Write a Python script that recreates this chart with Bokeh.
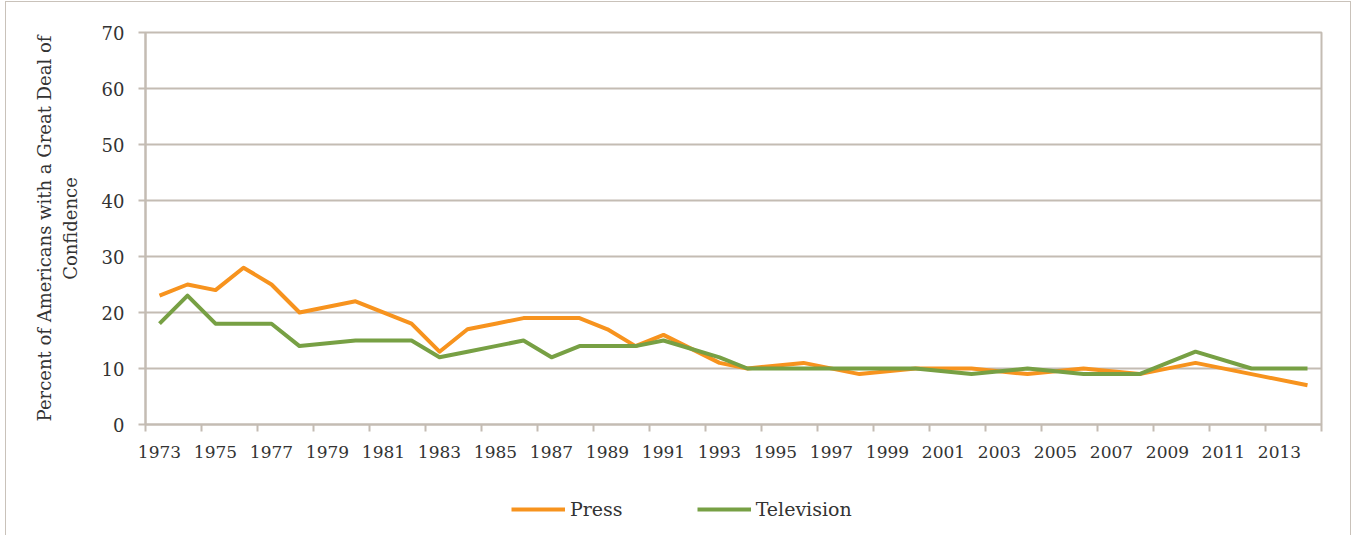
from bokeh.plotting import figure
from bokeh.models import Range1d, FixedTicker, Legend, LegendItem
from bokeh.layouts import column
from bokeh.embed import file_html
from bokeh.resources import INLINE

years = [1973, 1974, 1975, 1976, 1977, 1978, 1980, 1982, 1983, 1984, 1985, 1986,
         1987, 1988, 1989, 1990, 1991, 1993, 1994, 1996, 1998, 2000, 2002, 2004,
         2006, 2008, 2010, 2012, 2014]
press = [23, 25, 24, 28, 25, 20, 22, 18, 13, 17, 18, 19,
         19, 19, 17, 14, 16, 11, 10, 11, 9, 10, 10, 9,
         10, 9, 11, 9, 7]
television = [18, 23, 18, 18, 18, 14, 15, 15, 12, 13, 14, 15,
              12, 14, 14, 14, 15, 12, 10, 10, 10, 10, 9, 10,
              9, 9, 13, 10, 10]
tick_labels = [str(y) for y in range(1973, 2014, 2)]
y_ticks = [0, 10, 20, 30, 40, 50, 60, 70]

GRID = "#C4BCB3"
TEXT = "#333333"
FONT = "DejaVu Serif"
ORANGE = "#F7931E"
GREEN = "#77A044"

p = figure(output_backend="svg", toolbar_location=None,
           width=1344, height=472,
           min_border_left=139, min_border_right=29,
           min_border_top=30, min_border_bottom=50,
           x_range=Range1d(1972.5, 2014.5), y_range=Range1d(0, 70))

p.line(years, press, line_color=ORANGE, line_width=4, line_join="round")
p.line(years, television, line_color=GREEN, line_width=4, line_join="round")

p.background_fill_color = "white"
p.border_fill_color = "white"
p.outline_line_color = GRID
p.outline_line_width = 2

# x axis
xt = FixedTicker(ticks=[int(t) for t in tick_labels],
                 minor_ticks=[1972.5 + 2 * i for i in range(22)])
p.xaxis.ticker = xt
p.xaxis.major_tick_line_color = None
p.xaxis.minor_tick_line_color = GRID
p.xaxis.minor_tick_line_width = 2
p.xaxis.minor_tick_out = 7
p.xaxis.minor_tick_in = 0
p.xaxis.axis_line_color = GRID
p.xaxis.axis_line_width = 2
p.xaxis.major_label_text_font = FONT
p.xaxis.major_label_text_font_size = "17px"
p.xaxis.major_label_text_color = TEXT
p.xaxis.major_label_standoff = 14
p.xgrid.grid_line_color = None

# y axis
p.yaxis.ticker = FixedTicker(ticks=y_ticks)
p.yaxis.major_tick_line_color = GRID
p.yaxis.major_tick_line_width = 2
p.yaxis.major_tick_out = 7
p.yaxis.major_tick_in = 0
p.yaxis.minor_tick_line_color = None
p.yaxis.axis_line_color = GRID
p.yaxis.axis_line_width = 2
p.yaxis.major_label_text_font = FONT
p.yaxis.major_label_text_font_size = "18px"
p.yaxis.major_label_text_color = TEXT
p.yaxis.major_label_standoff = 14
p.yaxis.axis_label = "Percent of Americans with a Great Deal of\nConfidence"
p.yaxis.axis_label_text_font = FONT
p.yaxis.axis_label_text_font_size = "18px"
p.yaxis.axis_label_text_font_style = "normal"
p.yaxis.axis_label_text_color = TEXT
p.yaxis.axis_label_standoff = 18
p.ygrid.grid_line_color = GRID
p.ygrid.grid_line_width = 2

# legend strip (its lines lie outside its own ranges, only the legend shows)
lg = figure(output_backend="svg", toolbar_location=None,
            width=1344, height=61,
            min_border_left=0, min_border_right=0,
            min_border_top=0, min_border_bottom=0,
            x_axis_location=None, y_axis_location=None,
            x_range=Range1d(0, 1), y_range=Range1d(0, 1))
lg.outline_line_color = None
lg.grid.grid_line_color = None
lg.background_fill_color = "white"
lg.border_fill_color = "white"
r1 = lg.line(years, press, line_color=ORANGE, line_width=4)
r2 = lg.line(years, television, line_color=GREEN, line_width=4)

legend = Legend(items=[LegendItem(label="Press", renderers=[r1]),
                       LegendItem(label="Television", renderers=[r2])],
                orientation="horizontal", location=(366, 15),
                label_text_font=FONT, label_text_font_size="19px",
                label_text_color=TEXT, glyph_width=54, glyph_height=20,
                label_height=20,
                spacing=74, border_line_color=None, background_fill_alpha=0,
                label_standoff=5, padding=0, margin=0)
lg.add_layout(legend)

col = column(p, lg, spacing=0)
col.styles = {"margin-left": "5px", "margin-top": "1px",
              "border-left": "1px solid #C9C2BA",
              "border-top": "1px solid #C9C2BA",
              "border-right": "1px solid #C9C2BA"}

open("out.html", "w").write(file_html(col, INLINE))
